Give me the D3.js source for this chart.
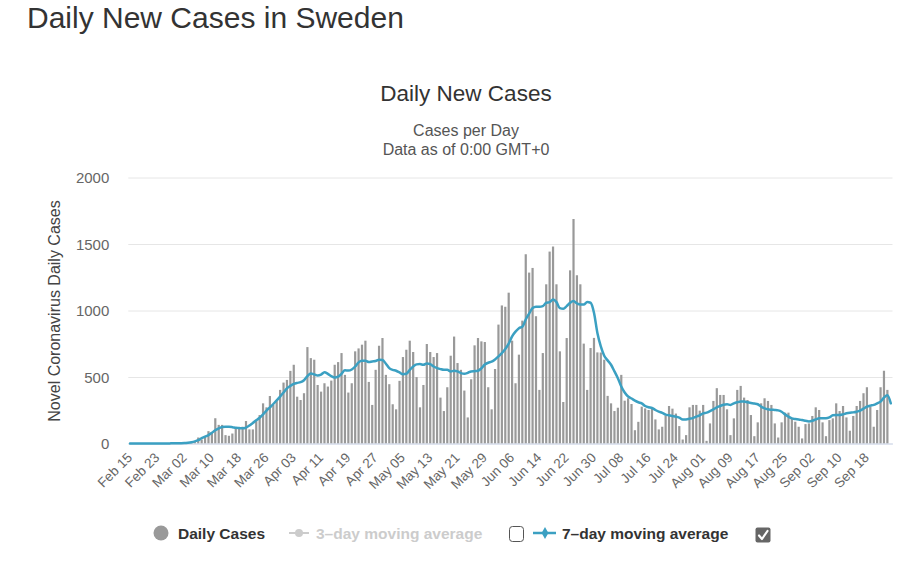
<!DOCTYPE html>
<html><head><meta charset="utf-8">
<script src="https://cdn.jsdelivr.net/npm/d3@7"></script>
<style>
body{margin:0;background:#fff;}
svg{display:block;font-family:"Liberation Sans",Arial,Helvetica,sans-serif;}
</style>
</head><body>
<svg id="chart" width="901" height="562"></svg>
<script>
// ---- data ----
const startDate = new Date(2020, 1, 15);   // Feb 15
const endDateExclusive = new Date(2020, 8, 26); // through Sep 25
const tickLabels = ["Feb 15","Feb 23","Mar 02","Mar 10","Mar 18","Mar 26","Apr 03","Apr 11","Apr 19","Apr 27",
  "May 05","May 13","May 21","May 29","Jun 06","Jun 14","Jun 22","Jun 30","Jul 08","Jul 16","Jul 24",
  "Aug 01","Aug 09","Aug 17","Aug 25","Sep 02","Sep 10","Sep 18"];
const yTicks = [0, 500, 1000, 1500, 2000];
const dailyCases = [
  0,0,0,0,0,0,0,0,0,0,0,1,5,5,1,1,1,8,12,15,
  45,30,55,93,80,190,140,140,63,58,
  75,113,113,126,169,106,106,169,214,302,
  272,357,290,327,403,458,478,546,592,352,
  327,378,725,642,630,440,390,453,428,473,
  592,612,680,516,383,453,693,715,743,773,
  463,290,554,735,793,516,446,295,257,471,
  650,705,773,688,499,272,440,748,688,650,
  680,345,244,423,660,804,605,554,398,196,
  483,738,793,768,763,423,257,560,894,1038,
  1028,1134,773,453,668,924,1423,1285,1320,957,
  403,680,1197,1443,1481,1197,693,312,793,1302,
  1688,1265,1197,751,403,718,794,685,684,630,
  358,302,244,269,516,322,340,297,100,163,
  277,264,252,272,181,106,126,210,282,262,
  225,131,30,63,272,290,290,247,290,20,
  151,320,416,365,365,257,63,189,403,433,
  345,327,214,55,159,302,340,320,290,151,
  45,159,232,232,189,164,126,38,146,151,
  207,272,252,159,55,176,189,302,244,282,
  196,96,207,282,320,378,423,277,126,252,
  423,547,403,0
];
const movingAvg7 = [
  0,0,0,0,0,0,0,0,0,0,0,0,1,2,2,2,3,6,10,16,
  25,40,52,63,80,100,114,124,126,126,
  123,118,116,114,120,135,155,174,194,219,
  247,272,297,325,353,383,414,433,448,456,
  461,476,506,526,520,511,518,536,524,506,
  496,502,524,550,548,556,579,610,622,622,
  612,617,620,630,628,600,567,554,547,534,
  521,524,554,579,595,597,592,602,597,579,
  567,559,554,554,542,547,542,529,524,531,
  542,544,547,565,594,607,615,632,655,680,
  710,751,806,841,867,877,932,977,1018,1028,
  1028,1033,1058,1063,1083,1063,1018,1013,1033,1058,
  1071,1053,1045,1045,1063,1058,983,831,730,660,
  625,592,542,491,428,383,353,338,322,310,
  302,282,272,267,252,239,230,217,212,207,
  202,194,181,181,186,191,202,212,227,232,
  244,257,272,282,292,295,290,302,310,315,
  315,310,305,300,295,277,264,257,254,252,
  249,239,219,202,189,184,181,176,171,166,
  171,181,189,189,189,196,212,214,214,219,
  227,232,234,239,247,262,277,285,290,302,
  315,345,363,302
];

// ---- layout ----
const svg = d3.select("#chart");
const plot = {left: 128.3, right: 892.5, top: 177.5, bottom: 443.5};
const dates = d3.timeDay.range(startDate, endDateExclusive);
const x = d3.scaleBand().domain(dates).range([plot.left, plot.right]).padding(0);
const cx = d => x(d) + x.bandwidth() / 2;
const y = d3.scaleLinear().domain([0, 2000]).range([plot.bottom, plot.top]);
const barColor = "#999999", lineColor = "#3ba0c2";

// titles
svg.append("text").attr("x", 27).attr("y", 28).attr("font-size", 30).attr("fill", "#333")
  .text("Daily New Cases in Sweden");
svg.append("text").attr("x", 466).attr("y", 101).attr("text-anchor", "middle")
  .attr("font-size", 22.5).attr("fill", "#333").text("Daily New Cases");
svg.append("text").attr("x", 466).attr("y", 136).attr("text-anchor", "middle")
  .attr("font-size", 16).attr("fill", "#555").text("Cases per Day");
svg.append("text").attr("x", 466).attr("y", 155).attr("text-anchor", "middle")
  .attr("font-size", 16).attr("fill", "#555").text("Data as of 0:00 GMT+0");

// y axis + grid
const yAxis = svg.append("g").attr("transform", `translate(${plot.left},0)`)
  .call(d3.axisLeft(y).tickValues(yTicks).tickSize(-(plot.right - plot.left)).tickPadding(19).tickFormat(d3.format("d")));
yAxis.select(".domain").remove();
yAxis.selectAll(".tick line").attr("stroke", "#e6e6e6");
yAxis.selectAll(".tick text").attr("font-size", 15).attr("fill", "#666")
  .attr("font-family", '"Liberation Sans",Arial,sans-serif').attr("dy", "0.35em");

svg.append("text").attr("transform", "translate(60,311) rotate(-90)").attr("text-anchor", "middle")
  .attr("font-size", 16).attr("fill", "#444").text("Novel Coronavirus Daily Cases");

// bars
const bw = 2.2;
svg.append("g").selectAll("rect").data(dailyCases).join("rect")
  .attr("x", (v, i) => cx(dates[i]) - bw / 2)
  .attr("width", bw)
  .attr("y", v => y(v))
  .attr("height", v => y(0) - y(v))
  .attr("fill", barColor);

// x axis
const xTickDates = dates.filter((d, i) => i % 8 === 0);
const xAxis = svg.append("g").attr("transform", `translate(0,${plot.bottom})`)
  .call(d3.axisBottom(x).tickValues(xTickDates).tickSize(0).tickFormat((d, i) => tickLabels[i]));
xAxis.select(".domain").attr("stroke", "#ccd6eb");
xAxis.selectAll(".tick text")
  .attr("font-size", 13.5).attr("fill", "#666")
  .attr("font-family", '"Liberation Sans",Arial,sans-serif')
  .attr("text-anchor", "end").attr("y", 0).attr("dy", 0)
  .attr("transform", "translate(3,15) rotate(-45)");

// 7-day line
const line = d3.line().x((v, i) => cx(dates[i])).y(v => y(v)).curve(d3.curveMonotoneX);
svg.append("path").datum(movingAvg7).attr("d", line)
  .attr("fill", "none").attr("stroke", lineColor).attr("stroke-width", 2.5)
  .attr("stroke-linejoin", "round").attr("stroke-linecap", "round");

// legend
const lg = svg.append("g").attr("font-size", 15.5).attr("font-weight", "bold");
lg.append("circle").attr("cx", 161).attr("cy", 533).attr("r", 7.5).attr("fill", barColor);
lg.append("text").attr("x", 178).attr("y", 539).attr("fill", "#333").text("Daily Cases");
lg.append("line").attr("x1", 289).attr("x2", 309).attr("y1", 533).attr("y2", 533)
  .attr("stroke", "#cccccc").attr("stroke-width", 2);
lg.append("circle").attr("cx", 299).attr("cy", 533).attr("r", 4).attr("fill", "#cccccc");
lg.append("text").attr("x", 316).attr("y", 539).attr("fill", "#cccccc").text("3\u2013day moving average");
lg.append("rect").attr("x", 509.5).attr("y", 526.5).attr("width", 14).attr("height", 15).attr("rx", 3)
  .attr("fill", "#fff").attr("stroke", "#555").attr("stroke-width", 1);
lg.append("line").attr("x1", 533).attr("x2", 556).attr("y1", 533).attr("y2", 533)
  .attr("stroke", lineColor).attr("stroke-width", 2.5);
lg.append("path").attr("d", d3.symbol(d3.symbolDiamond, 40)()).attr("transform", "translate(545,533)")
  .attr("fill", lineColor);
lg.append("text").attr("x", 562).attr("y", 539).attr("fill", "#333").text("7\u2013day moving average");
lg.append("rect").attr("x", 755.5).attr("y", 527.5).attr("width", 15).attr("height", 15).attr("rx", 2)
  .attr("fill", "#666");
lg.append("path").attr("d", "M759,535.5 L762,539 L767.5,531").attr("fill", "none")
  .attr("stroke", "#fff").attr("stroke-width", 2.2).attr("stroke-linecap", "round").attr("stroke-linejoin", "round");
</script>
</body></html>
